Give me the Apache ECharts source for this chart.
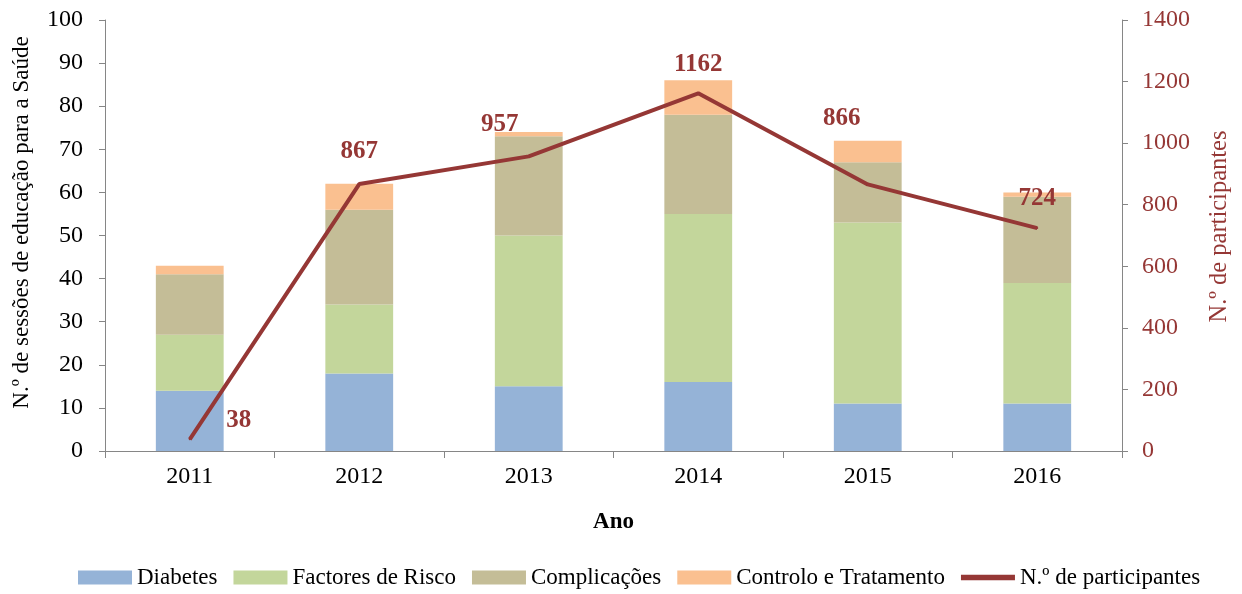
<!DOCTYPE html>
<html><head><meta charset="utf-8">
<script src="https://cdn.jsdelivr.net/npm/echarts@6/dist/echarts.min.js"></script>
<style>html,body{margin:0;padding:0;background:#fff}#c{width:1242px;height:594px}</style>
</head><body><div id="c"></div>
<script>
const categories = ['2011','2012','2013','2014','2015','2016'];
const diabetes = [14, 18, 15, 16, 11, 11];
const factoresRisco = [13, 16, 35, 39, 42, 28];
const complicacoes = [14, 22, 23, 23, 14, 20];
const controlo = [2, 6, 1, 8, 5, 1];
const participantes = [38, 867, 957, 1162, 866, 724];
const labelOffsets = [[49, 5], [0, -9], [-29, -8], [0, -5], [-26, -42], [0, -6]];

const F = 'Liberation Serif, Times New Roman, serif';
const red = '#953735';
const chart = echarts.init(document.getElementById('c'));
function barSeries(name, data, color) {
  return { name, type: 'bar', stack: 's', data, barWidth: '40%', itemStyle: { color }, yAxisIndex: 0 };
}
chart.setOption({
  animation: false,
  textStyle: { fontFamily: F },
  grid: { left: 105, right: 120, top: 20, bottom: 143 },
  legend: {
    top: 566, left: 78, itemWidth: 54, itemHeight: 14, itemGap: 16, padding: 0,
    textStyle: { fontFamily: F, fontSize: 23, color: '#000' },
    data: [
      { name: 'Diabetes', icon: 'rect' },
      { name: 'Factores de Risco', icon: 'rect' },
      { name: 'Complicações', icon: 'rect' },
      { name: 'Controlo e Tratamento', icon: 'rect' },
      { name: 'N.º de participantes', icon: 'path://M0,0 L10,0 L10,1 L0,1 Z', itemStyle: { color: red, opacity: 1 } }]
  },
  xAxis: {
    type: 'category', data: categories,
    name: 'Ano', nameLocation: 'middle', nameGap: 60,
    nameTextStyle: { fontFamily: F, fontSize: 23, fontWeight: 'bold', color: '#000' },
    axisLine: { lineStyle: { color: '#868686' } },
    axisTick: { show: true, alignWithLabel: false, length: 7, lineStyle: { color: '#868686' } },
    axisLabel: { fontFamily: F, fontSize: 24, color: '#000', margin: 14 }
  },
  yAxis: [
    {
      type: 'value', min: 0, max: 100, interval: 10,
      name: 'N.º de sessões de educação para a Saúde', nameLocation: 'middle', nameGap: 72, nameRotate: 90,
      nameTextStyle: { fontFamily: F, fontSize: 23, color: '#000', padding: [0, 0, 0, 26] },
      axisLine: { show: true, lineStyle: { color: '#868686' } },
      axisTick: { show: true, length: 6, lineStyle: { color: '#868686' } },
      axisLabel: { fontFamily: F, fontSize: 24, color: '#000', margin: 22 },
      splitLine: { show: false }
    },
    {
      type: 'value', min: 0, max: 1400, interval: 200, position: 'right',
      name: 'N.º de participantes', nameLocation: 'middle', nameGap: 85, nameRotate: 90,
      nameTextStyle: { fontFamily: F, fontSize: 24.5, color: red, padding: [0, 0, 0, 18] },
      axisLine: { show: true, lineStyle: { color: '#868686' } },
      axisTick: { show: true, length: 6, lineStyle: { color: '#868686' } },
      axisLabel: { fontFamily: F, fontSize: 24, color: red, margin: 20, formatter: v => String(v) },
      splitLine: { show: false }
    }
  ],
  series: [
    barSeries('Diabetes', diabetes, '#95B3D7'),
    barSeries('Factores de Risco', factoresRisco, '#C3D69B'),
    barSeries('Complicações', complicacoes, '#C4BD97'),
    barSeries('Controlo e Tratamento', controlo, '#FAC090'),
    {
      name: 'N.º de participantes', type: 'line', yAxisIndex: 1, z: 5,
      data: participantes.map((v, i) => ({ value: v, label: { offset: labelOffsets[i] } })),
      symbol: 'circle', symbolSize: 2, showSymbol: true,
      lineStyle: { color: red, width: 4 }, itemStyle: { color: red },
      label: { show: true, position: 'top', distance: 10, fontFamily: F, fontSize: 25, fontWeight: 'bold', color: red }
    }
  ]
});
</script></body></html>
